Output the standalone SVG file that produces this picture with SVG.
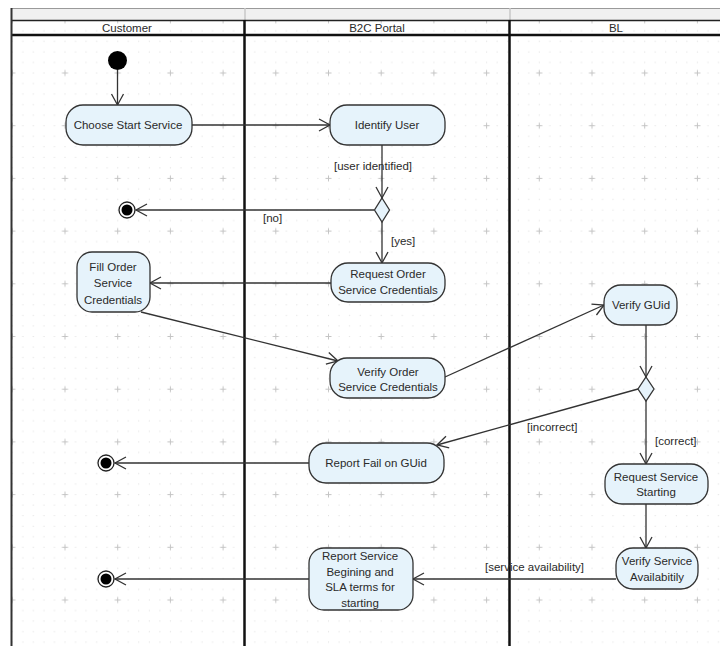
<svg xmlns="http://www.w3.org/2000/svg" width="720" height="646" viewBox="0 0 720 646">
  <style>
    .lbl { font-family: "Liberation Sans", Arial, sans-serif; font-size: 11.5px; fill: #2a2a2a; text-anchor: middle; }
    .guard { font-family: "Liberation Sans", Arial, sans-serif; font-size: 11.5px; fill: #2a2a2a; }
    .act { fill: #e6f3fb; stroke: #333; stroke-width: 1.3; }
    .flow { fill: none; stroke: #333; stroke-width: 1.3; marker-end: url(#arr); }
    .lane { stroke: #111; stroke-width: 2.5; }
    .dec { fill: #e6f3fb; stroke: #333; stroke-width: 1.3; }
  </style>
  <defs>
    <marker id="arr" markerUnits="userSpaceOnUse" markerWidth="16" markerHeight="16" viewBox="-13 -8 16 16" refX="0" refY="0" orient="auto">
      <path d="M-11,-6 L0,0 L-11,6" fill="none" stroke="#333" stroke-width="1.3"/>
    </marker>
    <!-- canvas grid: a faint plus every 52.7px with dotted sub-grid -->
    <pattern id="grid" patternUnits="userSpaceOnUse" x="38.65" y="46.65" width="52.7" height="52.7">
      <g fill="#dcdcdc">
        <rect x="4.8" y="4.8" width="1" height="1"/><rect x="15.3" y="4.8" width="1" height="1"/><rect x="25.9" y="4.8" width="1" height="1"/><rect x="36.4" y="4.8" width="1" height="1"/><rect x="46.9" y="4.8" width="1" height="1"/>
        <rect x="4.8" y="15.3" width="1" height="1"/><rect x="15.3" y="15.3" width="1" height="1"/><rect x="25.9" y="15.3" width="1" height="1"/><rect x="36.4" y="15.3" width="1" height="1"/><rect x="46.9" y="15.3" width="1" height="1"/>
        <rect x="4.8" y="36.4" width="1" height="1"/><rect x="15.3" y="36.4" width="1" height="1"/><rect x="25.9" y="36.4" width="1" height="1"/><rect x="36.4" y="36.4" width="1" height="1"/><rect x="46.9" y="36.4" width="1" height="1"/>
        <rect x="4.8" y="46.9" width="1" height="1"/><rect x="15.3" y="46.9" width="1" height="1"/><rect x="25.9" y="46.9" width="1" height="1"/><rect x="36.4" y="46.9" width="1" height="1"/><rect x="46.9" y="46.9" width="1" height="1"/>
        <rect x="4.8" y="25.9" width="1" height="1"/><rect x="15.3" y="25.9" width="1" height="1"/><rect x="36.4" y="25.9" width="1" height="1"/><rect x="46.9" y="25.9" width="1" height="1"/>
      </g>
      <path d="M23.35,26.35 H29.35 M26.35,23.35 V29.35" stroke="#c4c4c4" stroke-width="1"/>
    </pattern>
  </defs>

  <rect width="720" height="646" fill="#ffffff"/>

  <!-- swimlane frame -->
  <g id="lanes">
    <rect x="11" y="8" width="709" height="12" fill="#f0f0f0"/>
    <line x1="11" y1="8.5" x2="720" y2="8.5" stroke="#9a9a9a" stroke-width="1"/>
    <line x1="245" y1="8" x2="245" y2="20" stroke="#c8c8c8" stroke-width="1.5"/>
    <line x1="510" y1="8" x2="510" y2="20" stroke="#c8c8c8" stroke-width="1.5"/>
    <rect x="11" y="20" width="709" height="626" fill="url(#grid)"/>
    <line x1="11" y1="20.5" x2="720" y2="20.5" stroke="#222" stroke-width="1.5"/>
    <line x1="11" y1="35" x2="720" y2="35" class="lane"/>
    <line x1="11.5" y1="8" x2="11.5" y2="646" stroke="#333" stroke-width="2"/>
    <line x1="244.5" y1="20" x2="244.5" y2="646" class="lane"/>
    <line x1="509.5" y1="20" x2="509.5" y2="646" class="lane"/>
    <text class="lbl" x="127" y="32">Customer</text>
    <text class="lbl" x="377" y="32">B2C Portal</text>
    <text class="lbl" x="616" y="32">BL</text>
  </g>

  <!-- connectors -->
  <g id="connectors">
    <line class="flow" x1="117.5" y1="70" x2="117.5" y2="105"/>
    <line class="flow" x1="192" y1="125" x2="330" y2="125"/>
    <line class="flow" x1="382" y1="145" x2="382" y2="198"/>
    <line class="flow" x1="374" y1="210" x2="136" y2="210"/>
    <line class="flow" x1="382" y1="222" x2="382" y2="263"/>
    <line class="flow" x1="331" y1="283" x2="150" y2="283"/>
    <line class="flow" x1="141" y1="312" x2="338" y2="361"/>
    <line class="flow" x1="445" y1="377" x2="604" y2="305"/>
    <line class="flow" x1="646" y1="325" x2="646" y2="377"/>
    <line class="flow" x1="638" y1="389" x2="437" y2="445"/>
    <line class="flow" x1="646" y1="400" x2="646" y2="464"/>
    <line class="flow" x1="309" y1="463" x2="115" y2="463"/>
    <line class="flow" x1="646" y1="504" x2="646" y2="548"/>
    <line class="flow" x1="616" y1="579" x2="413" y2="579"/>
    <line class="flow" x1="309" y1="579" x2="115" y2="579"/>
    <text class="guard" x="334" y="170">[user identified]</text>
    <text class="guard" x="263" y="222">[no]</text>
    <text class="guard" x="391" y="245">[yes]</text>
    <text class="guard" x="527" y="431">[incorrect]</text>
    <text class="guard" x="655" y="445">[correct]</text>
    <text class="guard" x="485" y="571">[service availability]</text>
  </g>

  <g id="start">
    <circle cx="117.5" cy="60.5" r="9.5" fill="#000"/>
  </g>

  <g id="choose-start-service">
    <rect class="act" x="66" y="105" width="126" height="40" rx="17"/>
    <text class="lbl" x="128" y="129">Choose Start Service</text>
  </g>

  <g id="identify-user">
    <rect class="act" x="330" y="105" width="115" height="40" rx="17"/>
    <text class="lbl" x="387" y="129">Identify User</text>
  </g>

  <g id="decision-user">
    <polygon class="dec" points="382,198 389.5,210 382,222 374.5,210"/>
  </g>

  <g id="end-1">
    <circle cx="127" cy="210" r="8" fill="#fff" stroke="#222" stroke-width="1.3"/>
    <circle cx="127" cy="210" r="5.5" fill="#000"/>
  </g>

  <g id="request-order-credentials">
    <rect class="act" x="331" y="263" width="114" height="39" rx="17"/>
    <text class="lbl" x="388" y="278">Request Order</text>
    <text class="lbl" x="388" y="294">Service Credentials</text>
  </g>

  <g id="fill-order-credentials">
    <rect class="act" x="77" y="252" width="73" height="60" rx="15"/>
    <text class="lbl" x="113" y="271">Fill Order</text>
    <text class="lbl" x="113" y="287">Service</text>
    <text class="lbl" x="113" y="304">Credentials</text>
  </g>

  <g id="verify-order-credentials">
    <rect class="act" x="330" y="358" width="115" height="40" rx="17"/>
    <text class="lbl" x="388" y="376">Verify Order</text>
    <text class="lbl" x="388" y="391">Service Credentials</text>
  </g>

  <g id="verify-guid">
    <rect class="act" x="604" y="285" width="73" height="40" rx="17"/>
    <text class="lbl" x="641" y="309">Verify GUid</text>
  </g>

  <g id="decision-guid">
    <polygon class="dec" points="646,377 654,389 646,401 638,389"/>
  </g>

  <g id="report-fail-guid">
    <rect class="act" x="309" y="443" width="135" height="40" rx="17"/>
    <text class="lbl" x="376" y="467">Report Fail on GUid</text>
  </g>

  <g id="end-2">
    <circle cx="106" cy="463" r="8" fill="#fff" stroke="#222" stroke-width="1.3"/>
    <circle cx="106" cy="463" r="5.5" fill="#000"/>
  </g>

  <g id="request-service-starting">
    <rect class="act" x="605" y="464" width="103" height="40" rx="17"/>
    <text class="lbl" x="656" y="481">Request Service</text>
    <text class="lbl" x="656" y="496">Starting</text>
  </g>

  <g id="verify-service-availability">
    <rect class="act" x="616" y="548" width="82" height="41" rx="17"/>
    <text class="lbl" x="657" y="565">Verify Service</text>
    <text class="lbl" x="657" y="581">Availabitily</text>
  </g>

  <g id="report-service-begining">
    <rect class="act" x="309" y="548" width="104" height="62" rx="15"/>
    <text class="lbl" x="360" y="560">Report Service</text>
    <text class="lbl" x="360" y="576">Begining and</text>
    <text class="lbl" x="360" y="591">SLA terms for</text>
    <text class="lbl" x="360" y="607">starting</text>
  </g>

  <g id="end-3">
    <circle cx="106" cy="579" r="8" fill="#fff" stroke="#222" stroke-width="1.3"/>
    <circle cx="106" cy="579" r="5.5" fill="#000"/>
  </g>
</svg>
